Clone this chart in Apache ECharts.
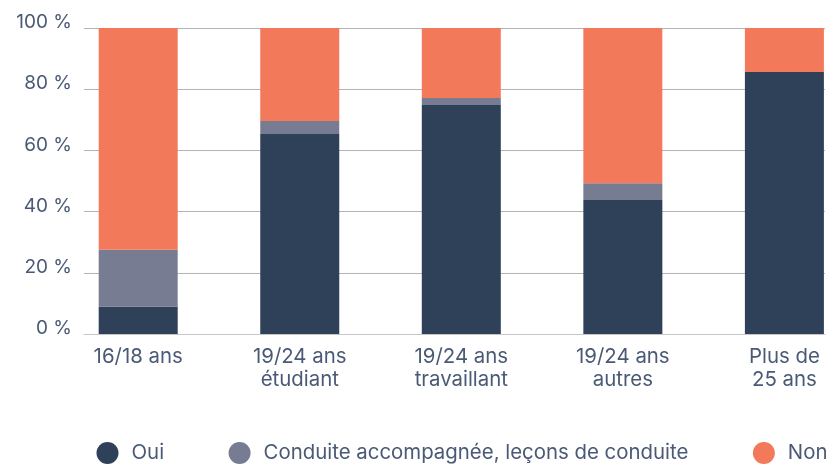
<!DOCTYPE html>
<html><head><meta charset="utf-8">
<script src="https://cdn.jsdelivr.net/npm/echarts@6/dist/echarts.min.js"></script>
<style>html,body{margin:0;padding:0;background:#fff}#c{width:828px;height:464px}</style></head>
<body><div id="c"></div>
<script>
const categories = ['16/18 ans','19/24 ans\nétudiant','19/24 ans\ntravaillant','19/24 ans\nautres','Plus de\n25 ans'];
const oui = [9, 65.4, 74.8, 43.8, 85.6];
const conduite = [18.5, 4.2, 2.3, 5.5, 0];
const non = [72.5, 30.4, 22.9, 50.7, 14.4];
const textColor = '#4a5a76';
const font = 'Inter';
const mk = (name, data, color) => ({name, type:'bar', stack:'t', barWidth:79, clip:false, xAxisIndex:1, yAxisIndex:1, data, itemStyle:{color}});
const chart = echarts.init(document.getElementById('c'), null, {renderer:'canvas'});
chart.setOption({
  animation:false,
  grid:[{left:84, right:3, top:28, height:306},{left:138.2, width:646.2, top:28, height:306}],
  xAxis:[
    {gridIndex:0, type:'value', min:0, max:1, splitLine:{show:false}, axisLabel:{show:false}, axisTick:{show:false},
     axisLine:{show:true, onZero:false, lineStyle:{color:'#c4c6c8', width:1}}},
    {gridIndex:1, type:'category', boundaryGap:false, data:categories, axisLine:{show:false}, axisTick:{show:false},
     axisLabel:{interval:0, margin:11, lineHeight:23, fontFamily:font, fontSize:20.4, color:textColor, showMinLabel:true, showMaxLabel:true}}
  ],
  yAxis:[
    {gridIndex:0, type:'value', min:0, max:100, interval:20,
     splitLine:{lineStyle:{color:'#b4b4b4', width:1}}, axisLine:{show:false}, axisTick:{show:false},
     axisLabel:{margin:12, fontFamily:font, fontSize:19, color:textColor, verticalAlign:'bottom', lineHeight:11, formatter:'{value} %'}},
    {gridIndex:1, type:'value', min:0, max:100, show:false}
  ],
  legend:{left:96.5, top:442, icon:'circle', itemWidth:22, itemHeight:22, itemGap:64.5, padding:0,
    textStyle:{fontFamily:font, fontSize:20.4, color:textColor, padding:[0,0,0,8]},
    data:['Oui','Conduite accompagnée, leçons de conduite','Non']},
  series:[mk('Oui',oui,'#2f4059'), mk('Conduite accompagnée, leçons de conduite',conduite,'#777c92'), mk('Non',non,'#f27a5a')]
});
</script></body></html>
